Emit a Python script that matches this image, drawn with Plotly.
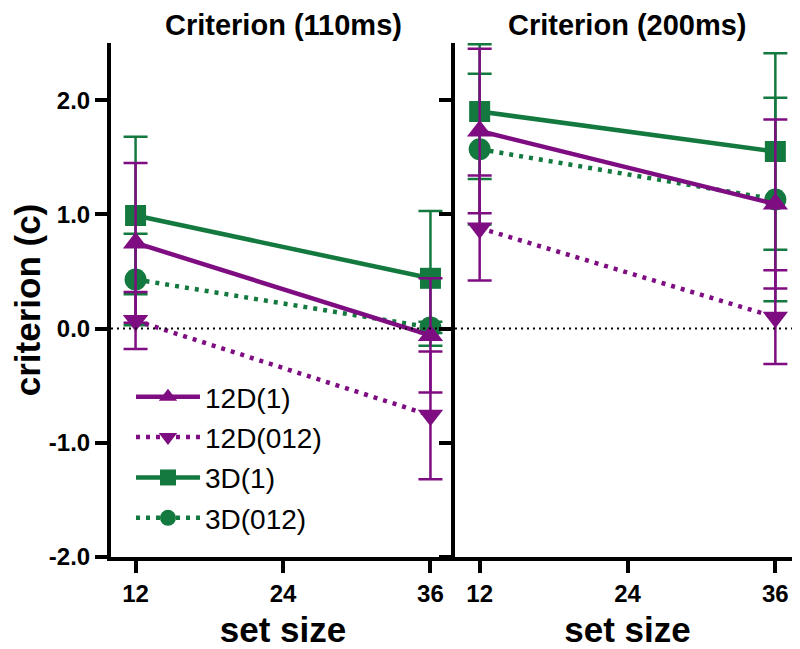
import plotly.graph_objects as go
from plotly.subplots import make_subplots

set_sizes = [12, 36]
series_names = ["12D(1)", "12D(012)", "3D(1)", "3D(012)"]

# Criterion (110ms)
c110_12D1 = [0.75, -0.06]
c110_12D1_err = [0.70, 0.50]
c110_12D012 = [0.07, -0.76]
c110_12D012_err = [0.25, 0.56]
c110_3D1 = [0.99, 0.44]
c110_3D1_err = [0.69, 0.59]
c110_3D012 = [0.43, 0.01]
c110_3D012_err = [0.40, 0.05]

# Criterion (200ms)
c200_12D1 = [1.73, 1.09]
c200_12D1_err = [0.72, 0.74]
c200_12D012 = [0.88, 0.10]
c200_12D012_err = [0.46, 0.41]
c200_3D1 = [1.90, 1.55]
c200_3D1_err = [0.59, 0.86]
c200_3D012 = [1.57, 1.13]
c200_3D012_err = [0.66, 0.89]

y_tickvals = [-2, -1, 0, 1, 2]
y_ticktext = ["-2.0", "-1.0", "0.0", "1.0", "2.0"]
x_tickvals = [12, 24, 36]
panel_titles = ["Criterion (110ms)", "Criterion (200ms)"]

PURPLE = "#7f0d82"
GREEN = "#13793f"
DOT = "4px,6px"

styles = {
    "12D(1)": dict(color=PURPLE, symbol="triangle-up", dash="solid", size=22, rank=1),
    "12D(012)": dict(color=PURPLE, symbol="triangle-down", dash=DOT, size=22, rank=2),
    "3D(1)": dict(color=GREEN, symbol="square", dash="solid", size=21, rank=3),
    "3D(012)": dict(color=GREEN, symbol="circle", dash=DOT, size=22, rank=4),
}

panels = [
    {"12D(1)": (c110_12D1, c110_12D1_err), "12D(012)": (c110_12D012, c110_12D012_err),
     "3D(1)": (c110_3D1, c110_3D1_err), "3D(012)": (c110_3D012, c110_3D012_err)},
    {"12D(1)": (c200_12D1, c200_12D1_err), "12D(012)": (c200_12D012, c200_12D012_err),
     "3D(1)": (c200_3D1, c200_3D1_err), "3D(012)": (c200_3D012, c200_3D012_err)},
]

fig = make_subplots(rows=1, cols=2, horizontal_spacing=0.0, shared_yaxes=False)

draw_order = ["3D(012)", "3D(1)", "12D(012)", "12D(1)"]
for pi, panel in enumerate(panels):
    for name in draw_order:
        vals, errs = panel[name]
        st = styles[name]
        fig.add_trace(go.Scatter(
            x=set_sizes, y=vals, name=name, mode="lines+markers",
            line=dict(color=st["color"], width=4.5, dash=st["dash"]),
            marker=dict(symbol=st["symbol"], size=st["size"], color=st["color"]),
            error_y=dict(type="data", array=errs, visible=True, color=st["color"],
                         thickness=2.5, width=12),
            showlegend=(pi == 0), legendgroup=name, legendrank=st["rank"],
        ), row=1, col=pi + 1)

for ci in (1, 2):
    fig.add_hline(y=0, line=dict(color="black", width=2, dash="2px,4px"), row=1, col=ci)

axis_font = dict(family="Liberation Sans, Arial, sans-serif", size=24, color="black", weight="bold")
title_font = dict(family="Liberation Sans, Arial, sans-serif", size=35, color="black", weight="bold")

for ci in (1, 2):
    fig.update_xaxes(range=[10, 38], tickvals=x_tickvals, ticks="outside", ticklen=12,
                     tickwidth=4, tickcolor="black", showline=True, linewidth=4, linecolor="black",
                     showgrid=False, zeroline=False, tickfont=axis_font, automargin=False,
                     title=dict(text="set size", font=title_font, standoff=16),
                     row=1, col=ci)
    fig.update_yaxes(range=[-2, 2.5], tickvals=y_tickvals, ticktext=y_ticktext, ticks="outside",
                     ticklen=12, tickwidth=4, tickcolor="black", showline=True, linewidth=4,
                     linecolor="black", showgrid=False, zeroline=False, tickfont=axis_font,
                     automargin=False, showticklabels=(ci == 1), row=1, col=ci)

fig.update_yaxes(title=dict(text="criterion (c)", font=title_font, standoff=8), row=1, col=1)

# page body has an 8px default margin, so the figure is sized to end at the window edge
fig.update_layout(
    xaxis=dict(domain=[0, 0.4993]),
    xaxis2=dict(domain=[0.4993, 1.0]),
    width=792, height=641,
    margin=dict(l=103, r=0, t=35, b=92),
    plot_bgcolor="white", paper_bgcolor="white",
    legend=dict(x=0.029, y=0.36, xanchor="left", yanchor="top",
                font=dict(family="Liberation Sans, Arial, sans-serif", size=28, color="black"),
                bgcolor="rgba(0,0,0,0)", tracegroupgap=1, itemsizing="trace", itemwidth=64),
    showlegend=True,
)

head_font = dict(family="Liberation Sans, Arial, sans-serif",
                 size=29, color="black", weight="bold")
fig.add_annotation(text=panel_titles[0], xref="x domain", yref="paper", x=0.5, y=1.0,
                   yshift=18, showarrow=False, font=head_font, xanchor="center", yanchor="middle")
fig.add_annotation(text=panel_titles[1], xref="x2 domain", yref="paper", x=0.5, y=1.0,
                   yshift=18, showarrow=False, font=head_font, xanchor="center", yanchor="middle")

fig.write_html("out.html")
